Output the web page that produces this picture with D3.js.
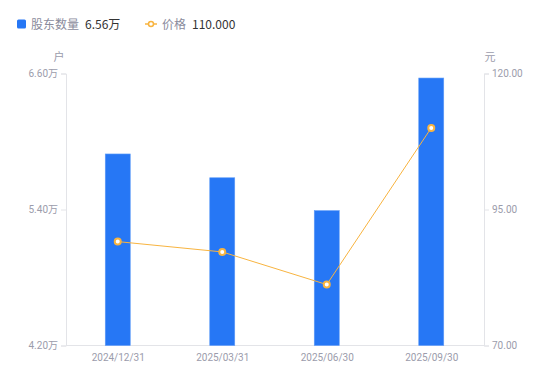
<!DOCTYPE html>
<html>
<head>
<meta charset="utf-8">
<script src="https://cdn.jsdelivr.net/npm/d3@7/dist/d3.min.js"></script>
<style>
  body { margin: 0; background: #fff; font-family: "Noto Sans CJK SC", "Noto Sans", sans-serif; }
</style>
</head>
<body>
<div id="chart"></div>
<script>
// data
const dates = ["2024/12/31", "2025/03/31", "2025/06/30", "2025/09/30"];
const holders = [5.89, 5.68, 5.39, 6.56];   // 万户
const prices = [89.1, 87.2, 81.2, 110.0];   // 元
const leftTicks = [4.2, 5.4, 6.6];
const rightTicks = [70, 95, 120];

const W = 550, H = 381;
const m = { top: 73.5, right: 66, bottom: 35.5, left: 66 };

const svg = d3.select("#chart").append("svg").attr("width", W).attr("height", H);

const x = d3.scaleBand().domain(dates).range([m.left, W - m.right]).padding(0);
const yL = d3.scaleLinear().domain([4.2, 6.6]).range([H - m.bottom, m.top]);
const yR = d3.scaleLinear().domain([70, 120]).range([H - m.bottom, m.top]);

const axisColor = "#e3e4e8";
const labelColor = "#9b9cab";

/* ---------- axes ---------- */
const gL = svg.append("g").attr("transform", `translate(${m.left},0)`)
  .call(d3.axisLeft(yL).tickValues(leftTicks).tickSize(5).tickPadding(3)
    .tickFormat((d) => d.toFixed(2) + "万"));
const gR = svg.append("g").attr("transform", `translate(${W - m.right},0)`)
  .call(d3.axisRight(yR).tickValues(rightTicks).tickSize(5).tickPadding(3)
    .tickFormat((d) => d.toFixed(2)));
const gB = svg.append("g").attr("transform", `translate(0,${H - m.bottom})`)
  .call(d3.axisBottom(x).tickSize(0).tickPadding(8));

[gL, gR, gB].forEach((g) => {
  g.select(".domain").attr("stroke", axisColor);
  g.selectAll(".tick line").attr("stroke", axisColor);
  g.selectAll("text").attr("fill", labelColor).attr("font-size", 10)
    .attr("font-family", "Roboto, 'Noto Sans CJK SC', sans-serif");
});
gB.select(".domain").attr("d", `M${m.left},0H${W - m.right}`);

svg.append("text").attr("x", 59).attr("y", 61).attr("text-anchor", "middle")
  .attr("font-size", 11).attr("fill", labelColor).text("户");
svg.append("text").attr("x", 490).attr("y", 61).attr("text-anchor", "middle")
  .attr("font-size", 11).attr("fill", labelColor).text("元");

/* ---------- bars ---------- */
const barW = 25;
svg.append("g").selectAll("rect")
  .data(dates)
  .enter()
  .append("rect")
  .attr("x", (d) => x(d) + x.bandwidth() / 2 - barW / 2 - 0.5)
  .attr("y", (d, i) => yL(holders[i]))
  .attr("width", barW)
  .attr("height", (d, i) => yL(4.2) - yL(holders[i]))
  .attr("fill", "#2677f5")
  .attr("stroke", "#5f9cf8")
  .attr("stroke-width", 0.6);

/* ---------- price line ---------- */
const lineColor = "#f8b440";
const line = d3.line()
  .x((d, i) => x(dates[i]) + x.bandwidth() / 2 - 0.5)
  .y((d) => yR(d));

svg.append("path")
  .datum(prices)
  .attr("d", line)
  .attr("fill", "none")
  .attr("stroke", lineColor)
  .attr("stroke-width", 1);

svg.append("g").selectAll("circle")
  .data(prices)
  .enter()
  .append("circle")
  .attr("cx", (d, i) => x(dates[i]) + x.bandwidth() / 2 - 0.5)
  .attr("cy", (d) => yR(d))
  .attr("r", 3)
  .attr("fill", "#fff")
  .attr("stroke", lineColor)
  .attr("stroke-width", 2);

/* ---------- legend ---------- */
const lg = svg.append("g").attr("font-size", 12);
lg.append("rect").attr("x", 17).attr("y", 19.5).attr("width", 9).attr("height", 9)
  .attr("rx", 1.5).attr("fill", "#2677f5");
lg.append("text").attr("x", 31).attr("y", 28.5).attr("fill", "#8a8b9c").text("股东数量");
lg.append("text").attr("x", 85).attr("y", 28.5).attr("fill", "#333")
  .text(holders[holders.length - 1].toFixed(2) + "万");

lg.append("line").attr("x1", 145).attr("x2", 157).attr("y1", 24).attr("y2", 24)
  .attr("stroke", lineColor).attr("stroke-width", 1.5);
lg.append("circle").attr("cx", 151).attr("cy", 24).attr("r", 2.5)
  .attr("fill", "#fff").attr("stroke", lineColor).attr("stroke-width", 1.5);
lg.append("text").attr("x", 162).attr("y", 28.5).attr("fill", "#8a8b9c").text("价格");
lg.append("text").attr("x", 192).attr("y", 28.5).attr("fill", "#333")
  .text(prices[prices.length - 1].toFixed(3));
</script>
</body>
</html>
